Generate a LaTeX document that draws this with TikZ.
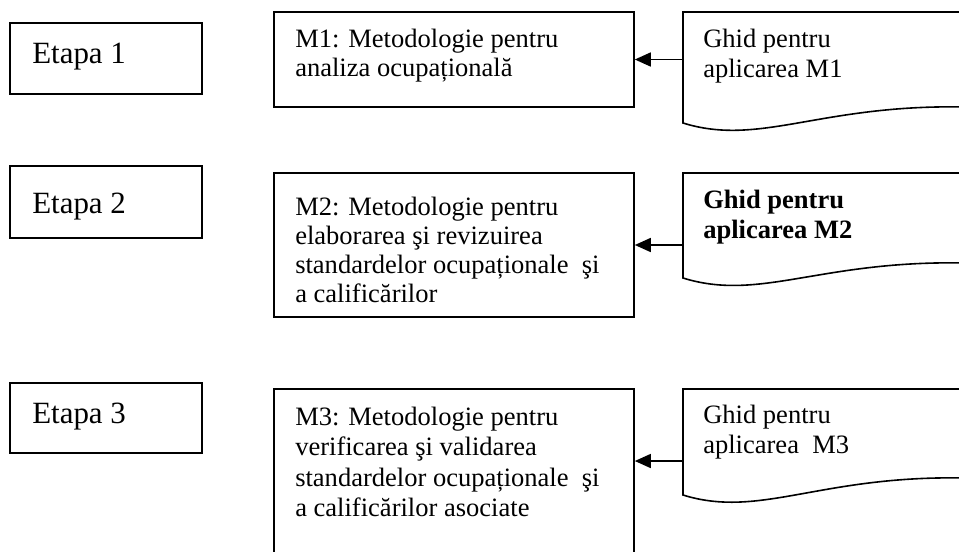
\documentclass[tikz,border=0pt]{standalone}
\usepackage{fontspec}
\setmainfont{Liberation Serif}
\usetikzlibrary{arrows.meta,fit}
\tikzset{
  frame/.style={draw, line width=1.2pt, inner sep=0pt},
  ghost/.style={inner sep=0pt},
  etxt/.style={font=\fontsize{23.2}{27}\selectfont, anchor=base west, inner sep=0pt},
  mtxt/.style={font=\fontsize{19.9}{21.8}\selectfont, anchor=north west, inner sep=0pt, align=left},
  mtxtwide/.style={font=\fontsize{19.9}{22.9}\selectfont, anchor=north west, inner sep=0pt, align=left},
  gtxt/.style={font=\fontsize{19.9}{22.9}\selectfont, anchor=north west, inner sep=0pt, align=left},
  docline/.style={line width=1.2pt, line join=miter},
  arr/.style={-{Triangle[length=12pt,width=10.5pt]}, line width=1.2pt}
}
\begin{document}
\begin{tikzpicture}[x=0.75pt,y=-0.75pt]
\useasboundingbox (0,0) rectangle (959,551);
\clip (0,0) rectangle (959,551);

% Etapa boxes
\node[frame, fit={(10,23) (202,94)}] (e1) {};
\node[frame, fit={(10,166) (202,238)}] (e2) {};
\node[frame, fit={(10,383) (202,453)}] (e3) {};
\node[etxt] (e1t) at (32,63) {Etapa 1};
\node[etxt] (e2t) at (32,213) {Etapa 2};
\node[etxt] (e3t) at (32,423) {Etapa 3};

% Methodology boxes
\node[frame, fit={(274,12) (634,107)}] (m1) {};
\node[frame, fit={(274,173) (634,317)}] (m2) {};
\node[frame, fit={(274,389) (634,556)}] (m3) {};
\node[mtxt] (m1t) at (295,26.7) {\strut M1: Metodologie pentru\\analiza ocupațională};
\node[mtxt] (m2t) at (295,194.9) {\strut M2: Metodologie pentru\\elaborarea şi revizuirea\\standardelor ocupaționale \ şi\\a calificărilor};
\node[mtxtwide] (m3t) at (295,403.6) {\strut M3: Metodologie pentru\\verificarea şi validarea\\standardelor ocupaționale \ şi\\a calificărilor asociate};

% Guide (document) shapes
\node[ghost, fit={(683,12) (959,123)}] (g1) {};
\node[ghost, fit={(683,173) (959,278)}] (g2) {};
\node[ghost, fit={(683,389) (959,495)}] (g3) {};
\draw[docline] (965,12) -- (683,12) -- (683,123)
  .. controls (760,147) and (820,104) .. (965,107);
\draw[docline] (965,173) -- (683,173) -- (683,278)
  .. controls (760,302) and (820,260) .. (965,263);
\draw[docline] (965,389) -- (683,389) -- (683,495)
  .. controls (760,519) and (820,475) .. (965,478);
\node[gtxt] (g1t) at (703,25.7) {\strut Ghid pentru\\aplicarea M1};
\node[gtxt] (g2t) at (703,186.6) {\strut\bfseries Ghid pentru\\\bfseries aplicarea M2};
\node[gtxt] (g3t) at (703,401.4) {\strut Ghid pentru\\aplicarea \ M3};

% Arrows
\draw[arr] (g1.west |- m1.east) -- (m1.east);
\draw[arr] (g2.west |- m2.east) -- (m2.east);
\coordinate (a3) at (683,461);
\draw[arr] (a3) -- (a3 -| m3.east);
\end{tikzpicture}
\end{document}
